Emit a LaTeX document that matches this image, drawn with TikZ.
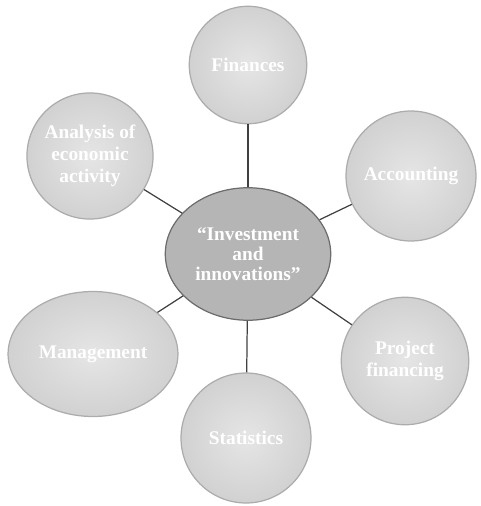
\documentclass[tikz,border=0pt]{standalone}
\usepackage{fontspec}
\setmainfont{Liberation Serif}
\usetikzlibrary{shapes.geometric}

\begin{document}
\begin{tikzpicture}[x=0.02cm,y=-0.02cm]

        \useasboundingbox (0,0) rectangle (480,506);

        \begin{scope}[every node/.style={circle,draw=gray!65,line width=0.7pt,
            inner color=gray!20,outer color=gray!36,text=white,align=center,
            font=\bfseries\fontsize{11}{12.5}\selectfont}]
          \node[minimum size=2.35cm] (fin) at (248,65)  {Finances};
          \node[minimum size=2.35cm] (ana) at (90,156)  {Analysis of\\economic\\activity};
          \node[minimum size=2.6cm]  (acc) at (411,176) {Accounting};
          \node[ellipse,minimum width=3.05cm,minimum height=2.5cm] (man) at (93,354) {Management};
          \node[minimum size=2.55cm] (pro) at (405,361) {Project\\financing};
          \node[minimum size=2.6cm]  (sta) at (246,438) {Statistics};
        \end{scope}

        \node[ellipse,draw=gray!85!black,line width=0.7pt,fill=gray!58,text=white,
          align=center,minimum width=3cm,minimum height=2.65cm,
          font=\bfseries\fontsize{11}{11.5}\selectfont] (inv) at (248,254)
          {``Investment\\and\\innovations''};

        \begin{scope}[every edge/.style={draw=black!75,line width=0.7pt}]
          \path (inv) edge (fin);
          \path (inv) edge (ana);
          \path (inv) edge (acc);
          \path (inv) edge (man);
          \path (inv) edge (pro);
          \path (inv) edge (sta);
        \end{scope}

      \end{tikzpicture}
\end{document}
